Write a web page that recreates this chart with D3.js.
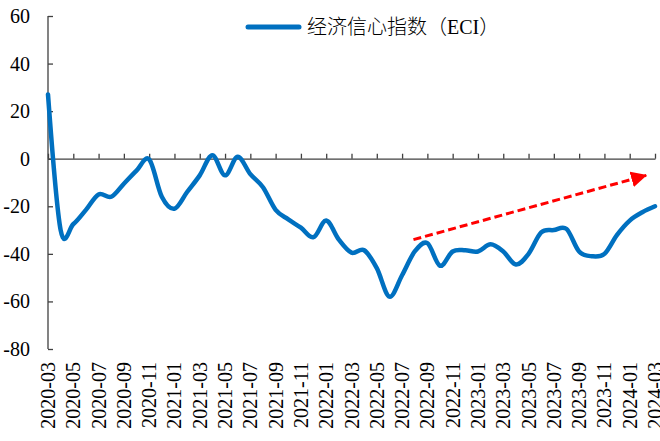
<!DOCTYPE html>
<html>
<head>
<meta charset="utf-8">
<script src="https://cdn.jsdelivr.net/npm/d3@7"></script>
<style>
    body { margin: 0; background: #fff; }
    svg { display: block; }
    .serif { font-family: "Liberation Serif", "Times New Roman", Tinos, "DejaVu Serif", serif; }
</style>
</head>
<body>
<div id="chart-container"></div>
<script>
const months = [
    "2020-03", "2020-04", "2020-05", "2020-06", "2020-07", "2020-08", "2020-09", "2020-10",
    "2020-11", "2020-12", "2021-01", "2021-02", "2021-03", "2021-04", "2021-05", "2021-06",
    "2021-07", "2021-08", "2021-09", "2021-10", "2021-11", "2021-12", "2022-01", "2022-02",
    "2022-03", "2022-04", "2022-05", "2022-06", "2022-07", "2022-08", "2022-09", "2022-10",
    "2022-11", "2022-12", "2023-01", "2023-02", "2023-03", "2023-04", "2023-05", "2023-06",
    "2023-07", "2023-08", "2023-09", "2023-10", "2023-11", "2023-12", "2024-01", "2024-02",
    "2024-03"
];
const eci = [
    27, -30, -27.5, -21.5, -15, -16, -10.5, -5,
    -0.3, -16, -21, -14, -7, 1.5, -7, 0.8,
    -6.5, -12, -21.5, -25.5, -29, -33, -26, -34,
    -39.5, -38.5, -46, -58, -49, -39, -35.5, -45,
    -39, -38.5, -39, -36, -39, -44.5, -40, -31,
    -30, -29.5, -39, -41, -40, -32, -26, -22.5,
    -20
];
const yTicks = [-80, -60, -40, -20, 0, 20, 40, 60];
const seriesName = "经济信心指数（ECI）";
// trend arrow, as [month index, value]
const arrowFrom = [28.9, -34];
const arrowTo = [47.3, -7];

const width = 660;
const height = 441;
const margin = ({top: 16, right: 5, bottom: 92, left: 48});

const x = d3.scalePoint()
    .domain(months)
    .range([margin.left, width - margin.right]);

const xi = d3.scaleLinear()
    .domain([0, months.length - 1])
    .range([margin.left, width - margin.right]);

const y = d3.scaleLinear()
    .domain([-80, 60])
    .range([height - margin.bottom, margin.top]);

const svg = d3.select("#chart-container")
    .append("svg")
    .attr("width", width)
    .attr("height", height)
    .attr("viewBox", [0, 0, width, height]);

const axisColor = "#404040";

// y axis
const yAxis = svg.append("g")
    .attr("transform", `translate(${margin.left},0)`)
    .call(d3.axisRight(y).tickValues(yTicks).tickSize(5).tickFormat(""))
    .call(g => g.select(".domain").attr("d", `M0,${y(60)}V${y(-80)}`));
yAxis.selectAll("line, path").attr("stroke", axisColor).attr("stroke-width", 1.3);

svg.append("g")
    .selectAll("text")
    .data(yTicks)
    .join("text")
    .attr("class", "serif")
    .attr("x", 30)
    .attr("y", d => y(d))
    .attr("dy", "0.35em")
    .attr("text-anchor", "end")
    .attr("font-size", 20)
    .attr("fill", "#000")
    .text(d => d);

// x axis on the zero line, ticks every two months
const tickMonths = months.filter((d, i) => i % 2 === 0);
const xAxis = svg.append("g")
    .attr("transform", `translate(0,${y(0)})`)
    .call(d3.axisTop(x).tickValues(tickMonths).tickSize(5).tickSizeOuter(0).tickFormat(""));
xAxis.selectAll("line, path").attr("stroke", axisColor).attr("stroke-width", 1.3);

svg.append("g")
    .selectAll("text")
    .data(tickMonths)
    .join("text")
    .attr("class", "serif")
    .attr("transform", d => `translate(${x(d)},${y(-80) + 13}) rotate(-90)`)
    .attr("dy", "0.35em")
    .attr("text-anchor", "end")
    .attr("font-size", 20)
    .attr("fill", "#000")
    .text(d => d);

// series line (Excel-like smoothing)
const line = d3.line()
    .x((d, i) => x(months[i]))
    .y(d => y(d))
    .curve(d3.curveCardinal.tension(0));

svg.append("path")
    .datum(eci)
    .attr("fill", "none")
    .attr("stroke", "#0070C0")
    .attr("stroke-width", 4.5)
    .attr("stroke-linejoin", "round")
    .attr("stroke-linecap", "round")
    .attr("d", line);

// red dashed trend arrow
svg.append("defs")
    .append("marker")
    .attr("id", "arrow")
    .attr("viewBox", "0 0 16 16")
    .attr("refX", 15)
    .attr("refY", 8)
    .attr("markerWidth", 16)
    .attr("markerHeight", 16)
    .attr("markerUnits", "userSpaceOnUse")
    .attr("orient", "auto")
    .append("path")
    .attr("d", "M0,0L16,8L0,16Z")
    .attr("fill", "#FF0000");

svg.append("line")
    .attr("x1", xi(arrowFrom[0]))
    .attr("y1", y(arrowFrom[1]))
    .attr("x2", xi(arrowTo[0]))
    .attr("y2", y(arrowTo[1]))
    .attr("stroke", "#FF0000")
    .attr("stroke-width", 3)
    .attr("stroke-dasharray", "8,4")
    .attr("marker-end", "url(#arrow)");

// legend
const legend = svg.append("g").attr("transform", "translate(248,27)");
legend.append("line")
    .attr("x1", 0)
    .attr("x2", 51)
    .attr("stroke", "#0070C0")
    .attr("stroke-width", 5)
    .attr("stroke-linecap", "round");
legend.append("text")
    .attr("x", 59)
    .attr("dy", "0.36em")
    .attr("font-family", "'Liberation Serif', 'Noto Sans CJK SC', serif")
    .attr("font-size", 20)
    .attr("font-weight", 300)
    .attr("fill", "#000")
    .text(seriesName);
</script>
</body>
</html>
